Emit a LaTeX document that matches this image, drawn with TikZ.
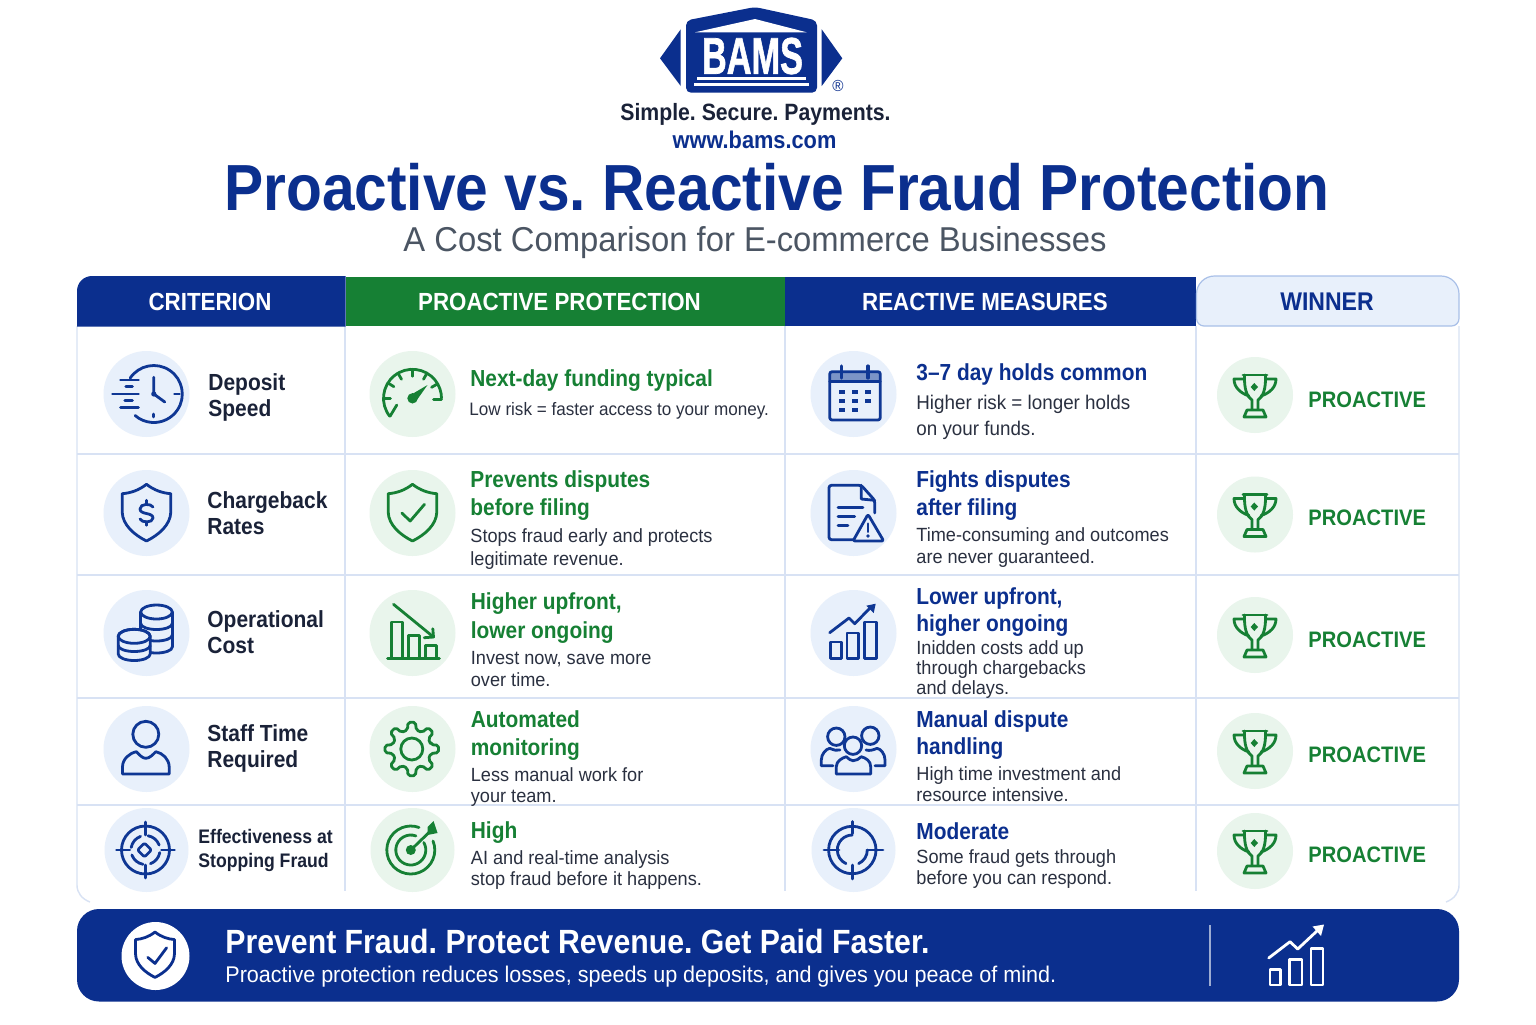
\documentclass[tikz,border=0pt]{standalone}
\usepackage{fontspec}
\usepackage{graphicx}
\setmainfont{Liberation Sans}[UprightFeatures={FakeStretch=0.95},BoldFeatures={FakeStretch=0.9}]
\newfontfamily\bamsf{Liberation Sans}[BoldFeatures={FakeBold=1.5}]
\frenchspacing
\usetikzlibrary{arrows.meta}
\definecolor{navy}{HTML}{0B2F8E}
\definecolor{icnavy}{HTML}{0F3794}
\definecolor{grn}{HTML}{168034}
\definecolor{ltblue}{HTML}{E8F0FB}
\definecolor{ltgreen}{HTML}{E9F5EC}
\definecolor{gridc}{HTML}{D8E2F4}
\definecolor{inkc}{HTML}{1A2238}
\definecolor{descc}{HTML}{2A3040}
\definecolor{subc}{HTML}{4B5563}
\definecolor{winb}{HTML}{A9C0E8}
\newcommand\fs[2]{\fontsize{#1}{#2}\selectfont}
\tikzset{
 gridline/.style={draw=gridc,line width=.7pt},
 icn/.style={line width=1.4pt,line cap=round,line join=round,fill=none},
 iconbg/.style={circle,inner sep=0,minimum size=#1},
 crit/.style={anchor=west,align=left,inner sep=0,text=inkc,font=\fs{11.65}{13}\bfseries},
 headp/.style={anchor=west,align=left,inner sep=0,text=grn,font=\fs{11.6}{#1}\bfseries},
 headr/.style={anchor=west,align=left,inner sep=0,text=navy,font=\fs{11.6}{#1}\bfseries},
 desc/.style={anchor=west,align=left,inner sep=0,text=descc,font=\fs{9.55}{#1}},
 wint/.style={anchor=west,inner sep=0,text=grn,font=\fs{11.2}{14}\bfseries},
 headt/.style={inner sep=0,text=white,font=\fs{12.4}{14}\bfseries},
}
% icons, drawn about (0,0) in pixels
\newcommand\shieldp{(0,-28.7) .. controls (-8,-22.5) and (-16,-20) .. (-24.3,-19.3) -- (-24.3,-1) .. controls (-24,12) and (-12,22) .. (0,28) .. controls (12,22) and (24,12) .. (24.3,-1) -- (24.3,-19.3) .. controls (16,-20) and (8,-22.5) .. (0,-28.7) -- cycle}
\newcommand\trophy{%
 \draw[icn,grn] (-12,-20) -- (12,-20);
 \draw[icn,grn] (-10.5,-20) .. controls (-11,-6) and (-8,2) .. (-3,5) -- (-3,14) (10.5,-20) .. controls (11,-6) and (8,2) .. (3,5) -- (3,14);
 \draw[icn,grn] (-11,-16) -- (-21,-16) .. controls (-21,-8) and (-15,-2) .. (-6,1) (11,-16) -- (21,-16) .. controls (21,-8) and (15,-2) .. (6,1);
 \draw[icn,grn] (-11,22) -- (-8,15) -- (8,15) -- (11,22) -- cycle;
 \fill[grn] (-0.7,-12) -- (3,-8) -- (-0.7,-4) -- (-4.4,-8) -- cycle;
}
\begin{document}
\begin{tikzpicture}[x=.5pt,y=-.5pt]
\useasboundingbox (0,0) rectangle (1536,1024);
\fill[white] (0,0) rectangle (1536,1024);
% ---------- logo
\fill[navy,rounded corners=2.5pt] (686,20.5) -- (755,7) -- (817,20.5) -- (817,92.7) -- (686,92.7) -- cycle;
\fill[white] (695,32.3) -- (755,19) -- (806.7,32.3) -- cycle;
\fill[white] (696.7,77.3) rectangle (806,80);
\fill[white] (694,82.7) rectangle (809.3,86);
\fill[navy] (660,58.3) -- (680.7,29.3) -- (680.7,86) -- cycle;
\fill[navy] (821.7,29.3) -- (842.3,58.3) -- (821.7,86) -- cycle;
\node[inner sep=0,text=white] (bamslogo) at (752.5,56) {\resizebox{50.5pt}{18pt}{\bamsf\bfseries BAMS}};
\node[inner sep=0,text=navy,font=\fs{8}{9}] (regmark) at (838,86) {®};
\node[inner sep=0,text=inkc,font=\fs{11.8}{13}\bfseries] (tagline) at (755.5,114.5) {Simple. Secure. Payments.};
\node[inner sep=0,text=navy,font=\fs{12.1}{13}\bfseries] (url) at (754.5,139.5) {www.bams.com};
\node[inner sep=0,text=navy,font=\fs{32.6}{36}\bfseries] (title) at (777,187) {Proactive vs. Reactive Fraud Protection};
\node[inner sep=0,text=subc,font=\fs{17.25}{20}] (subtitle) at (755,243) {A Cost Comparison for E-commerce Businesses};
% ---------- grid
\foreach \yy in {454,575,698,805} \draw[gridline] (77,\yy) -- (1459,\yy);
\foreach \xx in {345,785,1196} \draw[gridline] (\xx,326) -- (\xx,891);
\draw[gridline] (77,326) -- (77,885) .. controls (77,893) and (82,899) .. (90,902);
\draw[gridline] (1459,326) -- (1459,885) .. controls (1459,893) and (1454,899) .. (1446,902);
% ---------- header
\fill[navy] (77,326.5) -- (77,291) arc[start angle=180,end angle=270,radius=15] -- (345.5,276) -- (345.5,326.5) -- cycle;
\fill[grn] (345.5,276.5) rectangle (785,326);
\fill[navy] (785,276.5) rectangle (1196,326);
\draw[draw=winb,fill=ltblue,line width=.6pt] (1204,326) arc[start angle=90,end angle=180,radius=7.5] -- (1196.5,294) arc[start angle=180,end angle=270,radius=18] -- (1441,276) arc[start angle=270,end angle=360,radius=18] -- (1459,318.5) arc[start angle=0,end angle=90,radius=7.5] -- cycle;
\node[headt] (h1) at (210,301.5) {CRITERION};
\node[headt] (h2) at (559.5,301.5) {PROACTIVE PROTECTION};
\node[headt] (h3) at (985,301.5) {REACTIVE MEASURES};
\node[headt,text=navy,font=\fs{12.8}{14}\bfseries] (h4) at (1327,301.5) {WINNER};
% ---------- icon discs
\foreach \nm/\yy/\rr in {1/394/43pt,2/513/43pt,3/633/43pt,4/749/43pt,5/850/42pt}{
 \node[iconbg=\rr,fill=ltblue] (a\nm) at (146.5,\yy) {};
 \node[iconbg=\rr,fill=ltgreen] (b\nm) at (412.5,\yy) {};
 \node[iconbg=\rr,fill=ltblue] (c\nm) at (853.5,\yy) {};
}
\foreach \nm/\yy in {1/395,2/514.5,3/635,4/751,5/851}{
 \node[iconbg=38pt,fill=ltgreen] (d\nm) at (1255,\yy) {};
 \begin{scope}[shift={(1255,\yy)}]\trophy\end{scope}
}
% ---------- column A icons
\begin{scope}[shift={(146.5,394)},icnavy]
 \draw[icn] (7.3,0) ++(214:28.5) arc[start angle=214,end angle=491,radius=28.5];
 \draw[icn] (7.3,-16.7) -- (7.3,0) -- (18.3,8);
 \fill (7.3,0) circle[radius=2.6];
 \draw[icn] (28,0) -- (33,0) (7.3,20) -- (7.3,23);
 \draw[icn] (-26,-14) -- (-8,-14) (-20.7,-7.3) -- (-14,-7.3) (-34,0) -- (-8,0) (-21.7,6.7) -- (-14,6.7) (-26,13.7) -- (-8,13.7);
\end{scope}
\begin{scope}[shift={(146.5,513)},icnavy]
 \draw[icn] \shieldp;
 \draw[icn] (6.5,-6) .. controls (5,-9.5) and (-6.5,-10) .. (-6.5,-4) .. controls (-6.5,2) and (6.5,-1) .. (6.5,5) .. controls (6.5,10) and (-5,10) .. (-6.5,6);
 \draw[icn] (0,-12.7) -- (0,-9) (0,9) -- (0,12.3);
\end{scope}
\begin{scope}[shift={(146.5,633)},icnavy]
 \draw[icn] (-5.8,-21) -- (-5.8,-2) (25.8,-21) -- (25.8,14);
 \draw[icn] (10,-21) ellipse[x radius=15.8,y radius=7];
 \foreach \ly in {-9.5,2,14}
  \draw[icn] (25.8,\ly) arc[start angle=0,end angle=180,x radius=15.8,y radius=6];
 \draw[icn,fill=ltblue] (-28.3,3.3) -- (-28.3,21) arc[start angle=180,end angle=0,x radius=16,y radius=6.5] -- (3.7,3.3) arc[start angle=0,end angle=-180,x radius=16,y radius=7] -- cycle;
 \draw[icn] (-12.3,3.3) ellipse[x radius=16,y radius=7];
 \draw[icn] (-28.3,12.5) arc[start angle=180,end angle=0,x radius=16,y radius=6];
\end{scope}
\begin{scope}[shift={(146.5,749)},icnavy]
 \draw[icn] (-0.7,-14.7) circle[radius=13];
 \draw[icn] (-24,25) -- (-24,18) .. controls (-24,10) and (-17,4) .. (-10,2.7) .. controls (-7,6) and (-4,9.3) .. (-0.7,9.3) .. controls (3,9.3) and (6,6) .. (9.3,2.7) .. controls (16,4) and (22.7,10) .. (22.7,18) -- (22.7,25) -- cycle;
\end{scope}
\begin{scope}[shift={(146.5,850)},icnavy]
 \draw[icn] (-1,0) circle[radius=24];
 \draw[icn] (-30,0) -- (-16.7,0) (15,0) -- (28,0) (-1,-28) -- (-1,-15) (-1,15) -- (-1,28);
 \foreach \s in {190,280,10,100} \draw[icn] (-1,0) ++(\s:14.5) arc[start angle=\s,end angle=\s+60,radius=14.5];
 \draw[icn,rounded corners=1pt] (-2,-7) -- (5,0) -- (-2,7) -- (-9,0) -- cycle;
\end{scope}
% ---------- column B icons
\begin{scope}[shift={(412.5,394)},grn]
 \draw[icn] (0,4.3) ++(141.6:29) arc[start angle=141.6,end angle=360,radius=29];
 \draw[icn] (29,5.5) -- (21,5.5) (-22.3,22) -- (-15.7,11);
 \foreach \a in {180,212,240,270,300,330} \draw[icn] (0,4.3) ++(\a:29) -- ++(\a:-7);
 \fill (0,4.3) circle[radius=5.2];
 \fill (-2,1) -- (15,-9) -- (3,8) -- cycle;
\end{scope}
\begin{scope}[shift={(412.5,513)},grn]
 \draw[icn] \shieldp;
 \draw[icn] (-10.7,0) -- (-2.3,8) -- (12,-8.7);
\end{scope}
\begin{scope}[shift={(412.5,633)},grn]
 \draw[icn] (-20.7,25) -- (-20.7,-11) -- (-9.7,-11) -- (-9.7,25);
 \draw[icn] (-4,25) -- (-4,2.3) -- (7,2.3) -- (7,25);
 \draw[icn] (12.7,25) -- (12.7,12.7) -- (23.7,12.7) -- (23.7,25);
 \draw[icn] (-25,25.7) -- (27,25.7);
 \draw[icn] (-19,-28.7) -- (21,4);
 \draw[icn] (20.3,-4.3) -- (21,4) -- (11.7,4.7);
\end{scope}
\begin{scope}[shift={(412.5,749)},grn]
 \draw[icn] (-0.7,0) circle[radius=11];
 \draw[icn,rounded corners=1pt] ({-0.7+19.5*cos(-13)},{19.5*sin(-13)}) \foreach \a in {0,45,...,315}{ -- ({-0.7+19.5*cos(\a-13)},{19.5*sin(\a-13)}) -- ({-0.7+27*cos(\a-8)},{27*sin(\a-8)}) -- ({-0.7+27*cos(\a+8)},{27*sin(\a+8)}) -- ({-0.7+19.5*cos(\a+13)},{19.5*sin(\a+13)}) } -- cycle;
\end{scope}
\begin{scope}[shift={(412.5,850)},grn]
 \draw[icn] (-1.7,0) ++(-22:24) arc[start angle=-22,end angle=290,radius=24];
 \draw[icn] (-1.7,0) ++(-30:15) arc[start angle=-30,end angle=290,radius=15];
 \fill (-1.7,0) circle[radius=5];
 \draw[icn] (-1.7,0) -- (18,-19);
 \fill (15,-15) -- (25,-17) -- (21,-29) -- (15,-23) -- cycle;
\end{scope}
% ---------- column C icons
\begin{scope}[shift={(854,394)},icnavy]
 \fill[fill=icnavy!50!ltblue] (-24.3,-22.3) rectangle (26.3,-12.3);
 \draw[icn,rounded corners=1.2pt] (-24.3,-22.3) rectangle (26.3,26);
 \draw[icn] (-24.3,-12.3) -- (26.3,-12.3);
 \draw[icn,line width=1.6pt] (-12.7,-28) -- (-12.7,-16) (14,-28) -- (14,-16);
 \foreach \xx/\yy in {-12.3/-2,0.7/-2,13.7/-2,-12.3/6.7,0.7/6.7,13.7/6.7,-12.3/16,0.7/16}
  \fill (\xx-3,\yy-2.2) rectangle (\xx+3,\yy+2.2);
\end{scope}
\begin{scope}[shift={(854,513)},icnavy]
 \draw[icn,rounded corners=1.2pt] (20.7,0) -- (20.7,-12.7) -- (7.3,-27.7) -- (-25,-27.7) -- (-25,26.7) -- (-1,26.7);
 \draw[icn] (7.3,-27.7) -- (7.3,-14) -- (20.7,-12.7);
 \draw[icn] (-16,-5.3) -- (9,-5.3) (-16,3.3) -- (0.7,3.3) (-16,12.3) -- (-6,12.3);
 \draw[icn,rounded corners=1pt] (14,1.3) -- (-1,28) -- (29.7,28) -- cycle;
 \draw[icn] (14,10.7) -- (14,18.7);
 \fill (14,23) circle[radius=1.8];
\end{scope}
\begin{scope}[shift={(854,633)},icnavy]
 \draw[icn] (-23.7,9) rectangle (-12.7,25.3) (-7,0) rectangle (4.7,25.3) (10.7,-11) rectangle (22.3,25.3);
 \draw[icn] (-24.3,-0.3) -- (-5,-15) -- (0.7,-9.3) -- (18,-27);
 \fill (21.7,-29.3) -- (12.3,-27.3) -- (19.7,-20) -- cycle;
\end{scope}
\begin{scope}[shift={(854,749)},icnavy]
 \draw[icn] (-17.7,-12.3) circle[radius=8.7] (16.3,-13.3) circle[radius=8.7];
 \draw[icn] (-21,16.7) -- (-32.7,16.7) -- (-32.7,11) .. controls (-32.7,5) and (-28,0) .. (-24.3,-0.7) .. controls (-20,1) and (-17,2) .. (-14,1);
 \draw[icn] (21,16.7) -- (31,16.7) -- (31,11) .. controls (31,5) and (27,0) .. (23,-0.7) .. controls (19,1) and (16,2) .. (12,1);
 \draw[icn,fill=ltblue] (-1,-3.3) circle[radius=8.7];
 \draw[icn,fill=ltblue] (-17.7,25) -- (-17.7,17.7) .. controls (-17.7,12) and (-12,9) .. (-7.7,7.7) .. controls (-5,10) and (-3,11.7) .. (-1,11.7) .. controls (2,11.7) and (5,10) .. (7.3,7.7) .. controls (12,9) and (16.7,12) .. (16.7,17.7) -- (16.7,25) -- cycle;
\end{scope}
\begin{scope}[shift={(854,850)},icnavy]
 \draw[icn] (-1.7,0) circle[radius=23.7];
 \draw[icn] (-30,0) -- (-15,0) (13,0) -- (29,0) (-1.7,-28.5) -- (-1.7,-16.5) (-1.7,15) -- (-1.7,29);
 \draw[icn] (-1.7,0) ++(270:15) arc[start angle=270,end angle=115,radius=15];
 \draw[icn] (-1.7,0) ++(0:15) arc[start angle=0,end angle=65,radius=15];
\end{scope}
% ---------- text: criterion
\node[crit] (ta1) at (208,397) {Deposit\\Speed};
\node[crit] (ta2) at (207,513) {Chargeback\\Rates};
\node[crit] (ta3) at (207,632) {Operational\\Cost};
\node[crit] (ta4) at (207,748) {Staff Time\\Required};
\node[crit,font=\fs{9.8}{12}\bfseries] (ta5) at (198,850) {Effectiveness at\\Stopping Fraud};
% ---------- text: proactive
\node[headp=14] (pa1) at (470,381) {Next-day funding typical};
\node[desc=12,font=\fs{9}{12}] (pb1) at (469,411) {Low risk = faster access to your money.};
\node[headp=14] (pa2) at (470,496) {Prevents disputes\\before filing};
\node[desc=11.5] (pb2) at (470,549) {Stops fraud early and protects\\legitimate revenue.};
\node[headp=14.5] (pa3) at (470.5,618) {Higher upfront,\\lower ongoing};
\node[desc=11] (pb3) at (470.5,669) {Invest now, save more\\over time.};
\node[headp=14] (pa4) at (470.5,736) {Automated\\monitoring};
\node[desc=10.5] (pb4) at (470.5,787.5) {Less manual work for\\your team.};
\node[headp=14] (pa5) at (470.5,833) {High};
\node[desc=10.5] (pb5) at (470.5,870.5) {AI and real-time analysis\\stop fraud before it happens.};
% ---------- text: reactive
\node[headr=14] (ra1) at (916,374) {3–7 day holds common};
\node[desc=13,font=\fs{9.9}{13}] (rb1) at (916,417) {Higher risk = longer holds\\on your funds.};
\node[headr=14] (ra2) at (916,496) {Fights disputes\\after filing};
\node[desc=11] (rb2) at (916,548) {Time-consuming and outcomes\\are never guaranteed.};
\node[headr=13.5] (ra3) at (916,612.5) {Lower upfront,\\higher ongoing};
\node[desc=10] (rb3) at (916,670) {Inidden costs add up\\through chargebacks\\and delays.};
\node[headr=13.5] (ra4) at (916,735.5) {Manual dispute\\handling};
\node[desc=10.5] (rb4) at (916,784.5) {High time investment and\\resource intensive.};
\node[headr=14] (ra5) at (916,831) {Moderate};
\node[desc=10.5] (rb5) at (916,869.5) {Some fraud gets through\\before you can respond.};
% ---------- winner
\foreach \nm/\yy in {1/400,2/518,3/640,4/755,5/855}
 \node[wint] (w\nm) at (1308,\yy) {PROACTIVE};
% ---------- footer
\fill[navy,rounded corners=11pt] (77,909) rectangle (1459,1001.5);
\node[iconbg=34pt,fill=white] (fc) at (155.5,956) {};
\begin{scope}[shift={(155,955)},scale=.8,navy]
 \draw[icn] \shieldp;
 \draw[icn] (-9,3) -- (0,10.5) -- (14.5,-9);
\end{scope}
\node[anchor=west,inner sep=0,text=white,font=\fs{16.8}{20}\bfseries] (ft1) at (225,941) {Prevent Fraud. Protect Revenue. Get Paid Faster.};
\node[anchor=west,inner sep=0,text=white,font=\fs{11.35}{13}] (ft2) at (225,977) {Proactive protection reduces losses, speeds up deposits, and gives you peace of mind.};
\draw[draw=white!60!navy,line width=.6pt] (1210,925) -- (1210,986);
\begin{scope}[white]
 \draw[icn] (1270,969.5) rectangle (1280.5,985) (1289.5,959.5) rectangle (1302,985) (1311,948.5) rectangle (1323,985);
 \draw[icn] (1268.7,958) -- (1290,941.7) -- (1297.7,949) -- (1318,930);
 \fill (1324,924.5) -- (1312.5,926.5) -- (1321,936) -- cycle;
\end{scope}
\end{tikzpicture}
\end{document}
